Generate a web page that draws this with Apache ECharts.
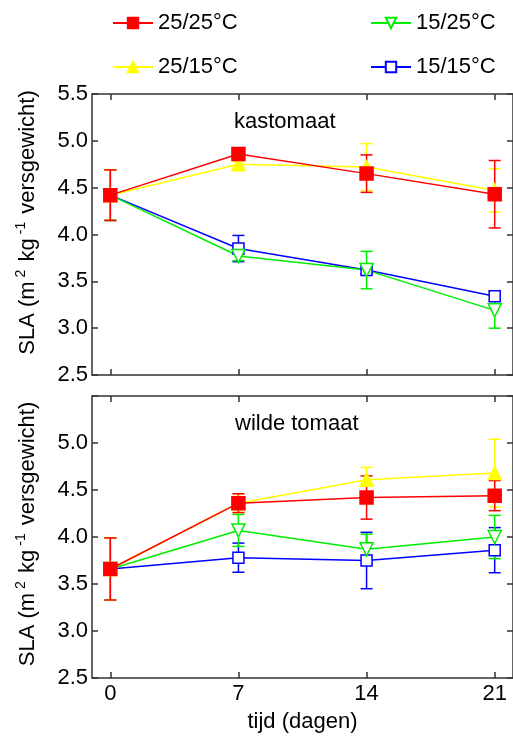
<!DOCTYPE html>
<html>
<head>
<meta charset="utf-8">
<script src="https://cdn.jsdelivr.net/npm/echarts@6/dist/echarts.min.js"></script>
<style>
  html, body { margin: 0; padding: 0; background: #fff; }
  #chart { width: 513px; height: 742px; }
</style>
</head>
<body>
<div id="chart"></div>
<script>
// dagen en tick labels
var days = [0, 7, 14, 21];
var yTicks = [2.5, 3.0, 3.5, 4.0, 4.5, 5.0, 5.5];
var names = ['25/25°C', '25/15°C', '15/25°C', '15/15°C'];

// kastomaat (boven)
var kas2525 = [4.42, 4.86, 4.65, 4.43];
var kas2525Err = [0.27, 0.06, 0.20, 0.36];
var kas2515 = [4.42, 4.75, 4.72, 4.47];
var kas2515Err = [0.27, 0.03, 0.25, 0.23];
var kas1525 = [4.42, 3.77, 3.62, 3.19];
var kas1525Err = [0.27, 0.05, 0.20, 0.19];
var kas1515 = [4.42, 3.85, 3.62, 3.34];
var kas1515Err = [0.27, 0.14, 0.04, 0.05];

// wilde tomaat (onder)
var wil2525 = [3.66, 4.36, 4.42, 4.44];
var wil2525Err = [0.33, 0.10, 0.23, 0.16];
var wil2515 = [3.66, 4.36, 4.61, 4.68];
var wil2515Err = [0.33, 0.10, 0.13, 0.36];
var wil1525 = [3.66, 4.07, 3.87, 4.00];
var wil1525Err = [0.33, 0.17, 0.16, 0.23];
var wil1515 = [3.66, 3.78, 3.75, 3.86];
var wil1515Err = [0.33, 0.155, 0.30, 0.24];

var FONT = "'Liberation Sans', Arial, sans-serif";
var styles = {
    '25/25°C': { color: '#ff0000', symbol: 'rect', size: 13, fill: '#ff0000', rotate: 0 },
    '25/15°C': { color: '#ffff00', symbol: 'triangle', size: 13, fill: '#ffff00', rotate: 0 },
    '15/25°C': { color: '#00ee00', symbol: 'triangle', size: 13, fill: '#ffffff', rotate: 180 },
    '15/15°C': { color: '#0000ff', symbol: 'rect', size: 11, fill: '#ffffff', rotate: 0 }
};

function pairs(vals) {
    return days.map(function (d, i) { return [d, vals[i]]; });
}
function errPairs(vals, errs) {
    return days.map(function (d, i) { return [d, vals[i], errs[i]]; });
}

function renderErr(params, api) {
    var x = api.value(0), y = api.value(1), e = api.value(2);
    var top = api.coord([x, y + e]);
    var bot = api.coord([x, y - e]);
    var hw = 6;
    var st = { stroke: api.visual('color'), lineWidth: 1.5 };
    return {
        type: 'group',
        children: [
            { type: 'line', shape: { x1: top[0], y1: top[1], x2: bot[0], y2: bot[1] }, style: st },
            { type: 'line', shape: { x1: top[0] - hw, y1: top[1], x2: top[0] + hw, y2: top[1] }, style: st },
            { type: 'line', shape: { x1: bot[0] - hw, y1: bot[1], x2: bot[0] + hw, y2: bot[1] }, style: st }
        ]
    };
}

function lineSeries(name, vals, gi) {
    var s = styles[name];
    return {
        name: name,
        type: 'line',
        xAxisIndex: gi * 2,
        yAxisIndex: gi * 2,
        data: pairs(vals),
        symbol: s.symbol,
        symbolSize: s.size,
        symbolRotate: s.rotate,
        showAllSymbol: true,
        lineStyle: { color: s.color, width: 1.5 },
        itemStyle: { color: s.fill, borderColor: s.color, borderWidth: 1.5 },
        emphasis: { disabled: true },
        z: 3
    };
}

function errSeries(name, vals, errs, gi) {
    return {
        name: name + ' fout',
        type: 'custom',
        xAxisIndex: gi * 2,
        yAxisIndex: gi * 2,
        data: errPairs(vals, errs),
        encode: { x: 0, y: 1 },
        renderItem: renderErr,
        itemStyle: { color: styles[name].color },
        z: 2
    };
}

var frameColor = '#333';

function xAxes(gi, withLabels) {
    var bottom = {
        type: 'value', gridIndex: gi, position: 'bottom', min: -1, max: 22,
        axisLine: { show: false, onZero: false },
        axisTick: { show: true, inside: true, length: 6, customValues: days, lineStyle: { color: frameColor, width: 1.5 } },
        axisLabel: { show: withLabels, customValues: days, margin: 5, fontSize: 22, color: '#000', fontFamily: FONT },
        splitLine: { show: false }
    };
    if (withLabels) {
        bottom.name = 'tijd (dagen)';
        bottom.nameLocation = 'middle';
        bottom.nameGap = 33;
        bottom.nameTextStyle = { fontSize: 22, color: '#000', fontFamily: FONT };
    }
    var top = {
        type: 'value', gridIndex: gi, position: 'top', min: -1, max: 22,
        axisLine: { show: false, onZero: false },
        axisTick: { show: true, inside: true, length: 6, customValues: days, lineStyle: { color: frameColor, width: 1.5 } },
        axisLabel: { show: false },
        splitLine: { show: false }
    };
    return [bottom, top];
}

function yAxes(gi, hideTop, padBottom) {
    var left = {
        type: 'value', gridIndex: gi, position: 'left', min: 2.5, max: 5.5, interval: 0.5,
        axisLine: { show: false, onZero: false },
        axisTick: { show: true, inside: true, length: 6, lineStyle: { color: frameColor, width: 1.5 } },
        axisLabel: {
            margin: 4, fontSize: 22, color: '#000', fontFamily: FONT,
            formatter: function (v) { return (hideTop && v > 5.4) ? '' : v.toFixed(1); }
        },
        splitLine: { show: false },
        name: '{a|SLA (m}{s|2}{a| kg}{s|-1}{a| versgewicht)}',
        nameLocation: 'middle',
        nameGap: 50,
        nameTextStyle: {
            padding: [0, 0, 0, padBottom],
            rich: {
                a: { fontSize: 22, lineHeight: 28, color: '#000', fontFamily: FONT },
                s: { fontSize: 14, lineHeight: 14, verticalAlign: 'top', color: '#000', fontFamily: FONT, padding: [0, 2, 0, 4] }
            }
        }
    };
    var right = {
        type: 'value', gridIndex: gi, position: 'right', min: 2.5, max: 5.5, interval: 0.5,
        axisLine: { show: false, onZero: false },
        axisTick: { show: true, inside: true, length: 6, lineStyle: { color: frameColor, width: 1.5 } },
        axisLabel: { show: false },
        splitLine: { show: false }
    };
    return [left, right];
}

var chart = echarts.init(document.getElementById('chart'), null, { renderer: 'canvas' });

var legendCommon = {
    orient: 'vertical',
    itemWidth: 40,
    itemHeight: 13,
    itemGap: 22,
    itemTextGap: 6,
    padding: 0,
    selectedMode: false,
    textStyle: { fontSize: 22, lineHeight: 22, color: '#000', fontFamily: FONT }
};

var option = {
    animation: false,
    backgroundColor: '#fff',
    title: [
        { text: 'kastomaat', left: 234, top: 111, padding: 0, textStyle: { fontSize: 22, fontWeight: 'normal', color: '#000', fontFamily: FONT } },
        { text: 'wilde tomaat', left: 235, top: 413, padding: 0, textStyle: { fontSize: 22, fontWeight: 'normal', color: '#000', fontFamily: FONT } }
    ],
    legend: [
        Object.assign({ left: 112, top: 12, data: [names[0], names[1]] }, legendCommon),
        Object.assign({ left: 370, top: 12, data: [names[2], names[3]] }, legendCommon)
    ],
    grid: [
        { left: 92, top: 94, width: 422, height: 281, show: true, borderColor: frameColor, borderWidth: 1.5, backgroundColor: 'transparent' },
        { left: 92, top: 396, width: 422, height: 282, show: true, borderColor: frameColor, borderWidth: 1.5, backgroundColor: 'transparent' }
    ],
    xAxis: xAxes(0, false).concat(xAxes(1, true)),
    yAxis: yAxes(0, false, 24).concat(yAxes(1, true, 6)),
    series: [
        errSeries(names[3], kas1515, kas1515Err, 0),
        errSeries(names[2], kas1525, kas1525Err, 0),
        errSeries(names[1], kas2515, kas2515Err, 0),
        errSeries(names[0], kas2525, kas2525Err, 0),
        lineSeries(names[3], kas1515, 0),
        lineSeries(names[2], kas1525, 0),
        lineSeries(names[1], kas2515, 0),
        lineSeries(names[0], kas2525, 0),

        errSeries(names[3], wil1515, wil1515Err, 1),
        errSeries(names[2], wil1525, wil1525Err, 1),
        errSeries(names[1], wil2515, wil2515Err, 1),
        errSeries(names[0], wil2525, wil2525Err, 1),
        lineSeries(names[3], wil1515, 1),
        lineSeries(names[2], wil1525, 1),
        lineSeries(names[1], wil2515, 1),
        lineSeries(names[0], wil2525, 1)
    ]
};

chart.setOption(option);
</script>
</body>
</html>
